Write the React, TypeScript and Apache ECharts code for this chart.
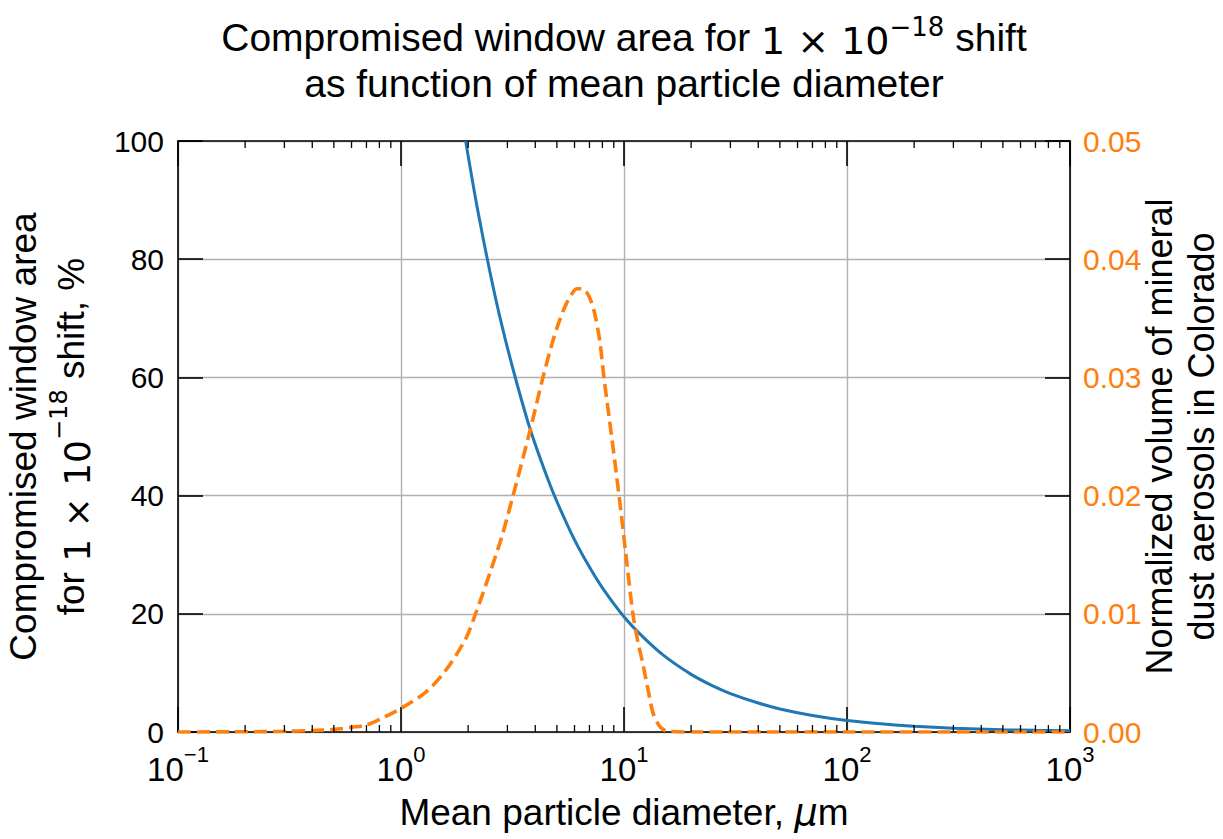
import React, { useEffect, useRef } from 'react';
import * as echarts from 'echarts';

// Blue: compromised window area (%) vs mean particle diameter (µm)
const blueDiameter = [1.95, 2, 2.2, 2.5, 2.8, 3.2, 3.79, 4.5, 5, 6, 7, 8, 10, 12, 15, 20, 25, 30, 40, 50, 70, 100, 150, 200, 300, 500, 700, 1000];
const blueArea = [100, 97.5, 88.6, 78, 69.6, 61, 51.3, 43.3, 39, 32.5, 27.9, 24.4, 19.5, 16.3, 13, 9.75, 7.8, 6.5, 4.9, 3.9, 2.8, 1.95, 1.3, 0.98, 0.65, 0.39, 0.28, 0.2];

// Orange: normalized volume of mineral dust aerosols in Colorado
const orangeDiameter = [0.1, 0.2, 0.3, 0.4, 0.5, 0.6, 0.7, 0.85, 1, 1.28, 1.57, 1.94, 2.15, 2.53, 2.85, 3.18, 3.79, 4.33, 4.8, 5.16, 5.5, 5.85, 6.15, 6.5, 6.8, 7.1, 7.41, 7.8, 8.13, 8.8, 9.5, 10.2, 10.96, 11.5, 12.2, 13, 13.5, 14.3, 15, 16, 20, 50, 100, 1000];
const orangeVolume = [0, 0.00002, 0.00006, 0.00012, 0.00022, 0.0004, 0.0006, 0.0013, 0.002, 0.0033, 0.0051, 0.0078, 0.0099, 0.0137, 0.0167, 0.02, 0.0255, 0.03, 0.0331, 0.0349, 0.0362, 0.0371, 0.0375, 0.0375, 0.0372, 0.0365, 0.0353, 0.033, 0.03, 0.025, 0.02, 0.015, 0.01, 0.0078, 0.0056, 0.003, 0.0016, 0.0006, 0.0002, 0.00005, 0, 0, 0, 0];

// Log-axis minor tick positions
const minorTicks = [0.2, 0.3, 0.4, 0.5, 0.6, 0.7, 0.8, 0.9, 2, 3, 4, 5, 6, 7, 8, 9, 20, 30, 40, 50, 60, 70, 80, 90, 200, 300, 400, 500, 600, 700, 800, 900];

const FONT = 'Liberation Sans, Arial, Helvetica, sans-serif';
const MATH = 'DejaVu Sans, sans-serif';

export default function App() {
  const ref = useRef<HTMLDivElement>(null);
  useEffect(() => {
    const chart = echarts.init(ref.current!, null, { renderer: 'svg' });
    const axisLineStyle = { color: '#000', width: 1.6 };
    const tickStyle = { color: '#000', width: 1.6 };
    const gridStyle = { color: '#b0b0b0', width: 1.4 };
    const supFmt = (v: number) => {
      const e = Math.round(Math.log10(v));
      return `{b|10}{s|${e < 0 ? '\u2212' + -e : e}}`;
    };
    const option: any = {
      animation: false,
      title: {
        text: 'Compromised window area for {m|1 \u00d7 10}{s|\u221218} shift\nas function of mean particle diameter',
        left: 624,
        top: 14,
        textAlign: 'center',
        padding: 0,
        textStyle: {
          fontFamily: FONT,
          fontSize: 39,
          fontWeight: 'normal',
          color: '#000',
          lineHeight: 46,
          rich: {
            m: { fontFamily: MATH, fontSize: 38, lineHeight: 46, color: '#000', verticalAlign: 'bottom' },
            s: { fontFamily: MATH, fontSize: 26, lineHeight: 30, color: '#000', verticalAlign: 'top' },
          },
        },
      },
      grid: { left: 178, right: 153, top: 141, bottom: 107, containLabel: false, outerBoundsMode: 'none', show: false },
      xAxis: [
        {
          type: 'log',
          logBase: 10,
          min: 0.1,
          max: 1000,
          position: 'bottom',
          axisLine: { show: true, onZero: false, lineStyle: axisLineStyle },
          axisTick: { show: true, inside: true, length: 25, lineStyle: tickStyle },
          splitLine: { show: true, lineStyle: gridStyle },
          axisLabel: {
            show: true,
            margin: 11,
            showMinLabel: true,
            showMaxLabel: true,
            formatter: supFmt,
            rich: {
              b: { fontFamily: FONT, fontSize: 33, color: '#000', padding: [10, 0, 0, 0], verticalAlign: 'bottom' },
              s: { fontFamily: FONT, fontSize: 22, color: '#000', verticalAlign: 'top' },
            },
          },
          name: 'Mean particle diameter, {i|\u03bc}m',
          nameLocation: 'middle',
          nameGap: 62,
          nameMoveOverlap: false,
          nameTextStyle: {
            fontFamily: FONT,
            fontSize: 37,
            color: '#000',
            rich: { i: { fontFamily: MATH, fontStyle: 'italic', fontSize: 37, color: '#000' } },
          },
        },
        {
          type: 'log',
          logBase: 10,
          min: 0.1,
          max: 1000,
          position: 'top',
          axisLine: { show: true, onZero: false, lineStyle: axisLineStyle },
          axisTick: { show: true, inside: true, length: 25, lineStyle: tickStyle },
          splitLine: { show: false },
          axisLabel: { show: false },
        },
      ],
      yAxis: [
        {
          type: 'value',
          min: 0,
          max: 100,
          interval: 20,
          position: 'left',
          axisLine: { show: true, onZero: false, lineStyle: axisLineStyle },
          axisTick: { show: true, inside: true, length: 25, lineStyle: tickStyle },
          splitLine: { show: true, lineStyle: gridStyle },
          axisLabel: { fontFamily: FONT, fontSize: 30, color: '#000', margin: 14 },
          name: 'Compromised window area\nfor {m|1 \u00d7 10}{s|\u221218} shift, %',
          nameLocation: 'middle',
          nameGap: 83,
          nameMoveOverlap: false,
          nameTextStyle: {
            fontFamily: FONT,
            fontSize: 37,
            color: '#000',
            lineHeight: 48,
            rich: {
              m: { fontFamily: MATH, fontSize: 36, lineHeight: 48, color: '#000', verticalAlign: 'bottom' },
              s: { fontFamily: MATH, fontSize: 24, lineHeight: 30, color: '#000', verticalAlign: 'top' },
            },
          },
        },
        {
          type: 'value',
          min: 0,
          max: 0.05,
          interval: 0.01,
          position: 'right',
          axisLine: { show: true, onZero: false, lineStyle: axisLineStyle },
          axisTick: { show: true, inside: true, length: 25, lineStyle: tickStyle },
          splitLine: { show: false },
          axisLabel: {
            fontFamily: FONT,
            fontSize: 30,
            color: '#ff7f0e',
            margin: 13,
            formatter: (v: number) => v.toFixed(2),
          },
          name: 'Normalized volume of mineral\ndust aerosols in Colorado',
          nameLocation: 'middle',
          nameGap: 68,
          nameMoveOverlap: false,
          nameTextStyle: { fontFamily: FONT, fontSize: 36, color: '#000', lineHeight: 42 },
        },
      ],
      series: [
        {
          type: 'line',
          name: 'area',
          xAxisIndex: 0,
          yAxisIndex: 0,
          data: blueDiameter.map((d, i) => [d, blueArea[i]]),
          showSymbol: false,
          smooth: 0.3,
          lineStyle: { color: '#1f77b4', width: 3 },
          z: 3,
        },
        {
          type: 'line',
          name: 'volume',
          xAxisIndex: 0,
          yAxisIndex: 1,
          data: orangeDiameter.map((d, i) => [d, orangeVolume[i]]),
          showSymbol: false,
          smooth: 0.3,
          lineStyle: { color: '#ff7f0e', width: 3.6, type: [13, 6] },
          z: 4,
        },
        {
          type: 'custom',
          name: 'minorTicks',
          xAxisIndex: 0,
          yAxisIndex: 0,
          silent: true,
          clip: false,
          z: 6,
          data: minorTicks.map((t) => [t, 0]),
          renderItem: (params: any, api: any) => {
            const v = api.value(0);
            const b = api.coord([v, 0]);
            const t = api.coord([v, 100]);
            const st = { stroke: '#000', lineWidth: 1.3 };
            return {
              type: 'group',
              children: [
                { type: 'line', shape: { x1: b[0], y1: b[1], x2: b[0], y2: b[1] - 7 }, style: st },
                { type: 'line', shape: { x1: t[0], y1: t[1], x2: t[0], y2: t[1] + 7 }, style: st },
              ],
            };
          },
        },
      ],
    };
    chart.setOption(option);
    return () => chart.dispose();
  }, []);
  return <div ref={ref} style={{ position: 'absolute', left: 0, top: 0, width: 1223, height: 839 }} />;
}
